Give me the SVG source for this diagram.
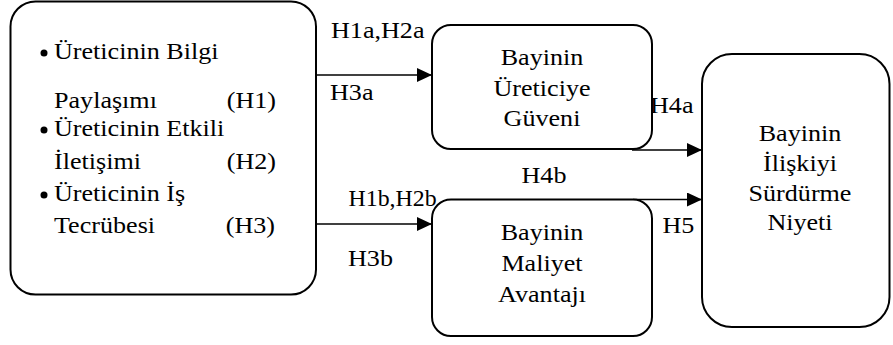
<svg xmlns="http://www.w3.org/2000/svg" width="893" height="345" viewBox="0 0 893 345">
<style>
.box{fill:#fff;stroke:#000;stroke-width:2}
.t{font-family:"Liberation Serif","Times New Roman",Times,"DejaVu Serif",serif;font-size:22.5px;fill:#000}
.m{text-anchor:middle}
.e{text-anchor:end}
.con{stroke:#000;stroke-width:1.6;fill:none}
</style>
<defs>
<marker id="ah" viewBox="0 0 15 14" refX="15" refY="7" markerWidth="15" markerHeight="14" markerUnits="userSpaceOnUse" orient="auto">
<path d="M0,0 L15,7 L0,14 z" fill="#000"/>
</marker>
</defs>
<rect width="893" height="345" fill="#fff"/>
<g id="connectors">
<path class="con" d="M316,75 H432" marker-end="url(#ah)"/>
<path class="con" d="M316,224 H432" marker-end="url(#ah)"/>
<path class="con" d="M632,150 H702" marker-end="url(#ah)"/>
<path class="con" d="M633,199.5 H702" marker-end="url(#ah)"/>
<text class="t" transform="matrix(1.16 0 0 1 331 37.5)">H1a,H2a</text>
<text class="t" transform="matrix(1.16 0 0 1 330 100)">H3a</text>
<text class="t" transform="matrix(1.06 0 0 1 348.5 205.5)">H1b,H2b</text>
<text class="t" transform="matrix(1.16 0 0 1 348 266)">H3b</text>
<text class="t" transform="matrix(1.16 0 0 1 650 113)">H4a</text>
<text class="t" transform="matrix(1.16 0 0 1 521.5 183)">H4b</text>
<text class="t" transform="matrix(1.16 0 0 1 662.5 233)">H5</text>
</g>
<g id="node-left">
<rect class="box" x="10.5" y="1.5" width="305.5" height="293" rx="25" ry="25"/>
<circle cx="44" cy="53" r="3.5" fill="#000"/>
<circle cx="44" cy="130" r="3.5" fill="#000"/>
<circle cx="44" cy="195" r="3.5" fill="#000"/>
<text class="t" transform="matrix(1.16 0 0 1 54 59)">Üreticinin Bilgi</text>
<text class="t" transform="matrix(1.16 0 0 1 54 108)">Paylaşımı</text>
<text class="t e" transform="matrix(1.16 0 0 1 276 108)">(H1)</text>
<text class="t" transform="matrix(1.16 0 0 1 54 136)">Üreticinin Etkili</text>
<text class="t" transform="matrix(1.16 0 0 1 54 169)">İletişimi</text>
<text class="t e" transform="matrix(1.16 0 0 1 276 169)">(H2)</text>
<text class="t" transform="matrix(1.16 0 0 1 54 201)">Üreticinin İş</text>
<text class="t" transform="matrix(1.16 0 0 1 54 233)">Tecrübesi</text>
<text class="t e" transform="matrix(1.16 0 0 1 275 233)">(H3)</text>
</g>
<g id="node-guven">
<rect class="box" x="432" y="25" width="220" height="124" rx="19" ry="19"/>
<text class="t m" transform="matrix(1.16 0 0 1 542 65)">Bayinin</text>
<text class="t m" transform="matrix(1.16 0 0 1 542 95.5)">Üreticiye</text>
<text class="t m" transform="matrix(1.16 0 0 1 542 125.5)">Güveni</text>
</g>
<g id="node-maliyet">
<rect class="box" x="432" y="199.5" width="220" height="136.5" rx="19" ry="19"/>
<text class="t m" transform="matrix(1.16 0 0 1 542 240)">Bayinin</text>
<text class="t m" transform="matrix(1.16 0 0 1 542 271)">Maliyet</text>
<text class="t m" transform="matrix(1.16 0 0 1 542 301.5)">Avantajı</text>
</g>
<g id="node-niyet">
<rect class="box" x="702" y="54" width="187.5" height="273" rx="30" ry="30"/>
<text class="t m" transform="matrix(1.16 0 0 1 800 141)">Bayinin</text>
<text class="t m" transform="matrix(1.16 0 0 1 800 170.5)">İlişkiyi</text>
<text class="t m" transform="matrix(1.16 0 0 1 800 200.5)">Sürdürme</text>
<text class="t m" transform="matrix(1.16 0 0 1 800 230)">Niyeti</text>
</g>
</svg>
